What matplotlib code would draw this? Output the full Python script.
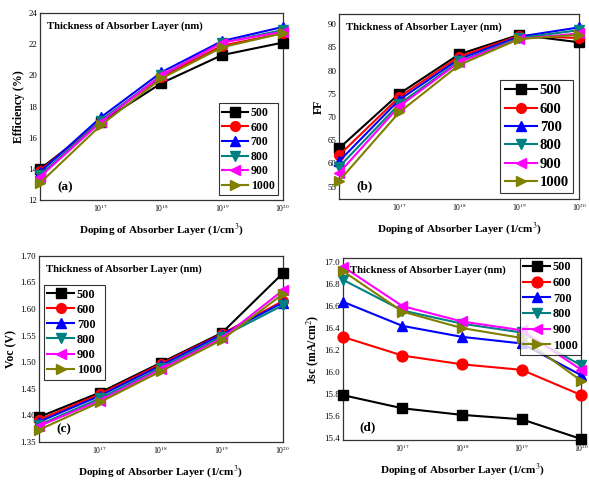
import matplotlib.pyplot as plt
from matplotlib.ticker import FixedLocator, NullLocator

plt.rcParams["font.family"] = ["Liberation Serif", "DejaVu Serif"]
plt.rcParams["mathtext.fontset"] = "stix"

doping = [1e16, 1e17, 1e18, 1e19, 1e20]
thickness = ["500", "600", "700", "800", "900", "1000"]

efficiency = [
    [14.0, 17.0, 19.5, 21.3, 22.1],
    [13.9, 17.1, 19.9, 21.9, 22.7],
    [13.8, 17.3, 20.2, 22.2, 23.1],
    [13.6, 17.1, 20.0, 22.1, 22.9],
    [13.5, 17.0, 20.0, 22.1, 22.8],
    [13.1, 16.8, 19.8, 21.8, 22.7],
]
ff = [
    [63.3, 75.0, 83.5, 87.7, 86.1],
    [61.8, 74.3, 83.0, 87.5, 87.0],
    [60.5, 73.7, 82.5, 87.3, 89.3],
    [59.3, 72.8, 82.0, 87.0, 88.7],
    [58.0, 72.3, 81.8, 86.8, 88.0],
    [56.3, 71.0, 81.2, 86.8, 87.7],
]
voc = [
    [1.397, 1.443, 1.499, 1.555, 1.667],
    [1.392, 1.440, 1.497, 1.553, 1.615],
    [1.388, 1.437, 1.494, 1.552, 1.612],
    [1.382, 1.432, 1.490, 1.548, 1.607],
    [1.380, 1.428, 1.487, 1.545, 1.635],
    [1.373, 1.425, 1.483, 1.542, 1.628],
]
jsc = [
    [15.79, 15.67, 15.61, 15.57, 15.39],
    [16.32, 16.15, 16.07, 16.02, 15.79],
    [16.64, 16.42, 16.32, 16.26, 15.97],
    [16.84, 16.56, 16.44, 16.36, 16.06],
    [16.96, 16.60, 16.46, 16.38, 16.02],
    [16.92, 16.55, 16.40, 16.31, 15.92],
]

COLORS = ["black", "#ff0000", "#0000ff", "#008080", "#ff00ff", "#808000"]
MARKERS = ["s", "o", "^", "v", "<", ">"]

fig = plt.figure(figsize=(5.89, 4.8), dpi=100)

panels = [
    # rect, data, ylabel, ylim, yticks, tick fmt, tag, legend loc, legend font, marker size, label spacing
    ([0.068, 0.583, 0.412, 0.390], efficiency, "Efficiency (%)", (12, 24),
     [12, 14, 16, 18, 20, 22, 24], "{:.0f}", "(a)", "lower right", 8.5, 7, 0.22),
    ([0.576, 0.585, 0.407, 0.386], ff, "FF", (52.3, 92.2),
     [55, 60, 65, 70, 75, 80, 85, 90], "{:.0f}", "(b)", "lower right", 10.5, 7, 0.35),
    ([0.066, 0.079, 0.414, 0.388], voc, "Voc (V)", (1.35, 1.70),
     [1.35, 1.40, 1.45, 1.50, 1.55, 1.60, 1.65, 1.70], "{:.2f}", "(c)", "upper left", 8.8, 7, 0.25),
    ([0.582, 0.083, 0.405, 0.380], jsc, "Jsc (mA/cm$^{2}$)", (15.38, 17.04),
     [15.4, 15.6, 15.8, 16.0, 16.2, 16.4, 16.6, 16.8, 17.0], "{:.1f}", "(d)", "upper right", 8.8, 7.8, 0.3),
]

for rect, data, ylabel, ylim, yticks, fmt, tag, loc, lfs, ms, lsp in panels:
    ax = fig.add_axes(rect)
    for series, name, c, m in zip(data, thickness, COLORS, MARKERS):
        ax.plot(doping, series, color=c, marker=m, markersize=ms, linewidth=1.5,
                label=name, clip_on=False, zorder=3)
    ax.set_xscale("log")
    ax.set_xlim(1e16, 1e20)
    ax.set_ylim(*ylim)
    ax.xaxis.set_major_locator(FixedLocator([1e17, 1e18, 1e19, 1e20]))
    ax.xaxis.set_minor_locator(NullLocator())
    ax.set_xticklabels(["10$^{17}$", "10$^{18}$", "10$^{19}$", "10$^{20}$"], fontsize=5.5)
    ax.set_yticks(yticks)
    ax.set_yticklabels([fmt.format(v) for v in yticks], fontsize=6.3)
    ax.tick_params(direction="in", length=0, pad=2)
    for s in ax.spines.values():
        s.set_linewidth(0.9)
        s.set_color("#333333")
    ax.set_ylabel(ylabel, fontsize=8.5, fontweight="bold", labelpad=2)
    ax.set_xlabel("Doping of Absorber Layer (1/cm$^{3}$)", fontsize=8,
                  fontweight="bold", labelpad=5)
    ax.text(0.03, 0.93, "Thickness of Absorber Layer (nm)", transform=ax.transAxes,
            fontsize=7.7, fontweight="bold", va="center", ha="left")
    ax.text(0.07, 0.07, tag, transform=ax.transAxes, fontsize=9.5,
            fontweight="bold", va="center", ha="left")
    leg_kw = dict(loc=loc, fancybox=False, edgecolor="black", handlelength=2.2,
                  handletextpad=0.2, borderpad=0.3, labelspacing=lsp,
                  prop={"size": lfs, "weight": "bold"}, borderaxespad=0.4)
    if loc == "upper left":
        leg_kw["bbox_to_anchor"] = (0.0, 0.87)
    if loc == "upper right":
        leg_kw["borderaxespad"] = 0.0
        leg_kw["bbox_to_anchor"] = (1.0, 1.0)
    leg = ax.legend(**leg_kw)
    leg.get_frame().set_linewidth(0.8)

fig.savefig("out.png", dpi=100, facecolor="white")
